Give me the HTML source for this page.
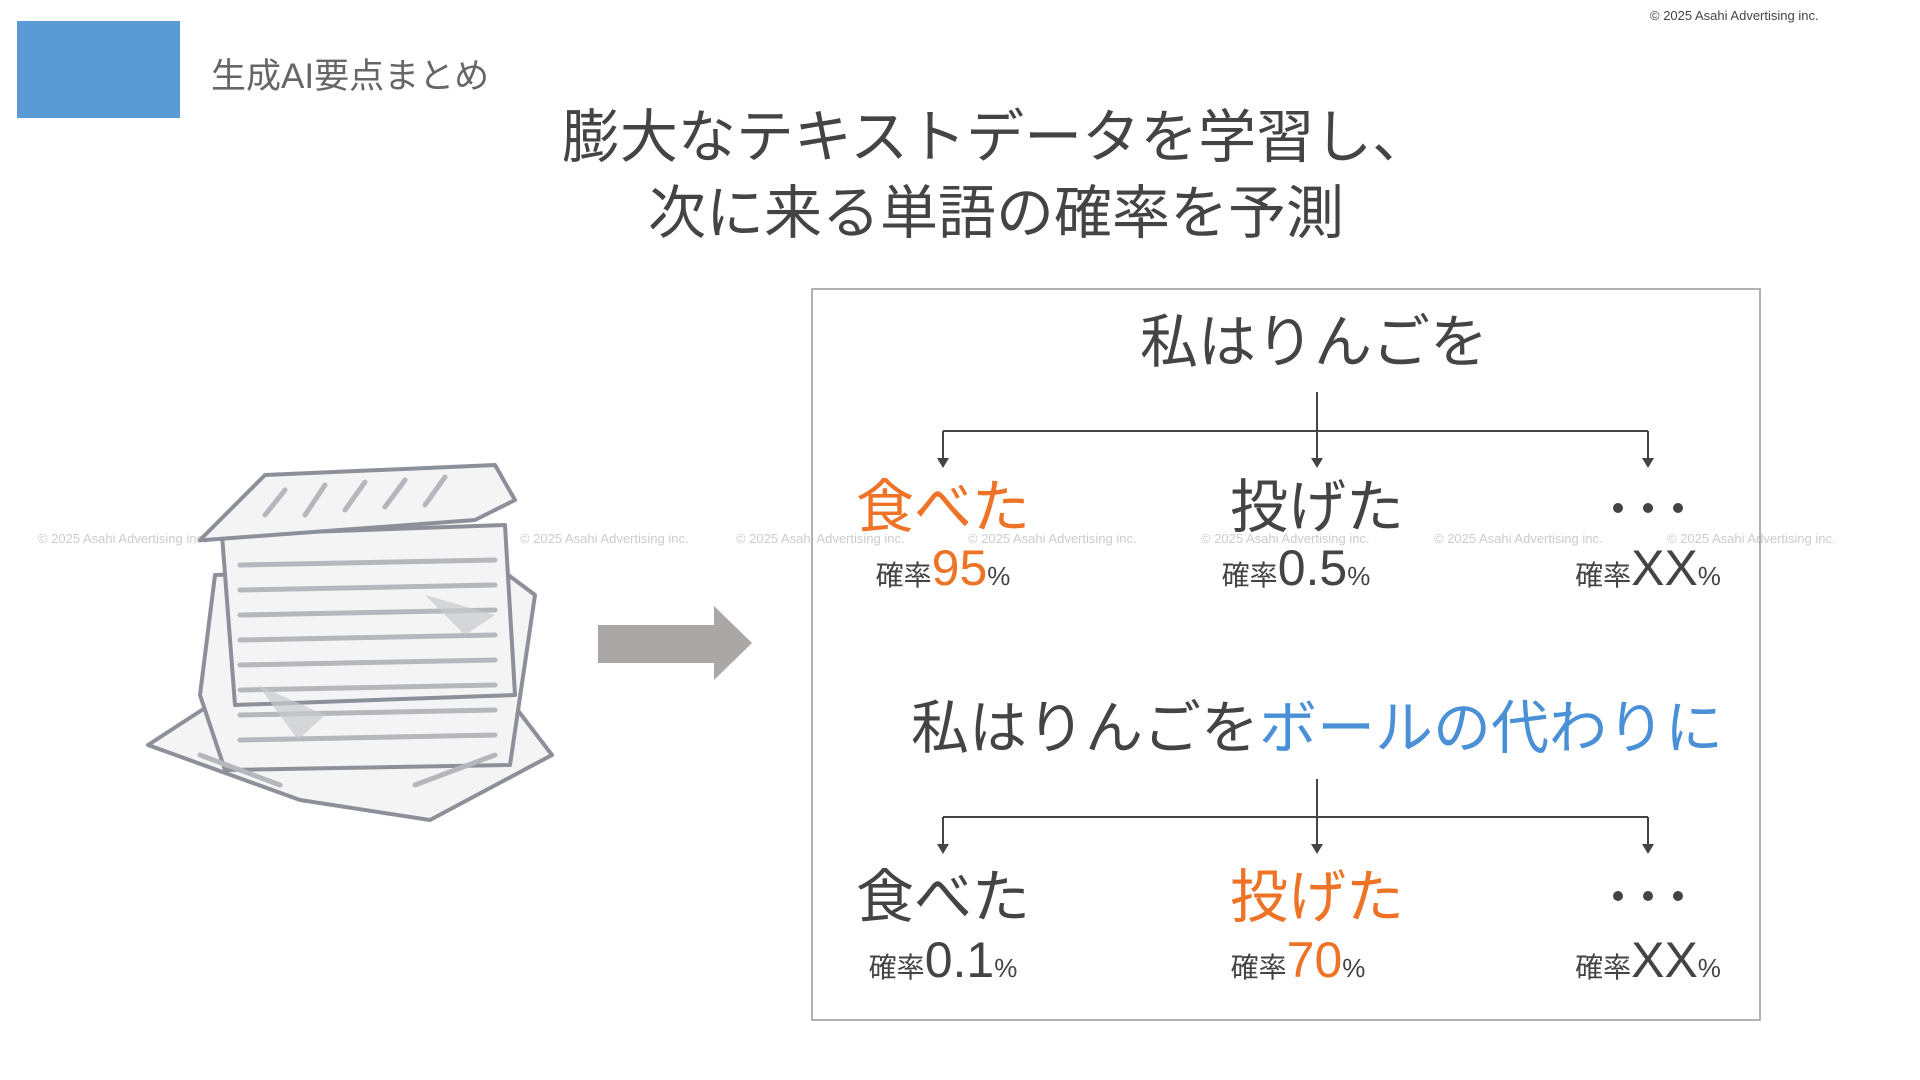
<!DOCTYPE html>
<html><head><meta charset="utf-8"><style>
body{margin:0;width:1920px;height:1080px;background:#fff;position:relative;overflow:hidden;font-family:"Liberation Sans","Noto Sans CJK JP",sans-serif;color:#444}
.a{position:absolute;white-space:nowrap}
.c{transform:translateX(-50%);text-align:center}
.w{font-size:58px;line-height:1}
.p{font-size:50px;line-height:1}
.p small{font-size:28px}
.p i{font-style:normal;font-size:26px}
.o{color:#ee7326}.b{color:#4a90d6}
.wm{font-size:13px;color:#ccc}
</style></head><body>
<div class="a" style="left:17px;top:21px;width:163px;height:97px;background:#5b9bd5"></div>
<div class="a" style="left:211px;top:48px;font-size:35px;color:#666">生成AI要点まとめ</div>
<div class="a" style="left:1650px;top:8px;font-size:13px;color:#444">© 2025 Asahi Advertising inc.</div>
<div class="a c" style="left:996px;top:100px;font-size:58px;line-height:76px">膨大なテキストデータを学習し、<br>次に来る単語の確率を予測</div>
<div class="a wm" style="left:38px;top:531px">© 2025 Asahi Advertising inc.</div>
<div class="a wm" style="left:520px;top:531px">© 2025 Asahi Advertising inc.</div>
<div class="a wm" style="left:736px;top:531px">© 2025 Asahi Advertising inc.</div>
<div class="a wm" style="left:968px;top:531px">© 2025 Asahi Advertising inc.</div>
<div class="a wm" style="left:1201px;top:531px">© 2025 Asahi Advertising inc.</div>
<div class="a wm" style="left:1434px;top:531px">© 2025 Asahi Advertising inc.</div>
<div class="a wm" style="left:1667px;top:531px">© 2025 Asahi Advertising inc.</div>
<svg class="a" style="left:0;top:0" width="1920" height="1080">
<g fill="#f4f4f5" stroke="#8d9099" stroke-width="4" stroke-linejoin="round">
<path d="M148 745 L225 695 L510 700 L552 755 L430 820 L300 800 Z"/>
<path d="M215 575 L495 565 L535 595 L510 765 L225 770 L200 695 Z"/>
<path d="M222 535 L505 525 L515 695 L235 705 Z"/>
<path d="M200 540 L265 475 L495 465 L515 500 L475 520 L205 540 Z"/>
</g>
<g stroke="#b5b7bd" stroke-width="5" stroke-linecap="round">
<line x1="240" y1="565" x2="495" y2="560"/><line x1="240" y1="590" x2="495" y2="585"/>
<line x1="240" y1="615" x2="495" y2="610"/><line x1="240" y1="640" x2="495" y2="635"/>
<line x1="240" y1="665" x2="495" y2="660"/><line x1="240" y1="690" x2="495" y2="685"/>
<line x1="240" y1="715" x2="495" y2="710"/><line x1="240" y1="740" x2="495" y2="735"/>
<line x1="265" y1="515" x2="285" y2="490"/><line x1="305" y1="515" x2="325" y2="485"/>
<line x1="345" y1="510" x2="365" y2="482"/><line x1="385" y1="507" x2="405" y2="480"/>
<line x1="425" y1="505" x2="445" y2="477"/><line x1="200" y1="755" x2="280" y2="785"/>
<line x1="415" y1="785" x2="495" y2="755"/>
</g>
<g fill="#c8c9cc" opacity=".7"><path d="M258 685 L325 715 L298 740 Z"/><path d="M425 595 L495 615 L465 635 Z"/></g>
<path d="M598 625 H714 V606 L752 643 L714 680 V663 H598 Z" fill="#aba7a6"/>
<rect x="812" y="289" width="948" height="731" fill="none" stroke="#999" stroke-width="1.5"/>
<g stroke="#444" stroke-width="2" fill="none">
<path d="M1317 392 V431 M943 431 H1648 M943 431 V462 M1317 431 V462 M1648 431 V462"/>
<path d="M1317 779 V817 M943 817 H1648 M943 817 V848 M1317 817 V848 M1648 817 V848"/>
</g>
<g fill="#444">
<path d="M937 458 L949 458 L943 468 Z"/><path d="M1311 458 L1323 458 L1317 468 Z"/><path d="M1642 458 L1654 458 L1648 468 Z"/>
<path d="M937 844 L949 844 L943 854 Z"/><path d="M1311 844 L1323 844 L1317 854 Z"/><path d="M1642 844 L1654 844 L1648 854 Z"/>
<circle cx="1618" cy="508" r="5"/><circle cx="1648" cy="508" r="5"/><circle cx="1678" cy="508" r="5"/>
<circle cx="1618" cy="896" r="5"/><circle cx="1648" cy="896" r="5"/><circle cx="1678" cy="896" r="5"/>
</g>
</svg>
<div class="a c w" style="left:1314px;top:314px">私はりんごを</div>
<div class="a c w o" style="left:943px;top:479px">食べた</div>
<div class="a c w" style="left:1317px;top:479px">投げた</div>
<div class="a c p" style="left:943px;top:543px"><small>確率</small><span class="o">95</span><i>%</i></div>
<div class="a c p" style="left:1296px;top:543px"><small>確率</small>0.5<i>%</i></div>
<div class="a c p" style="left:1648px;top:543px"><small>確率</small>XX<i>%</i></div>
<div class="a c w" style="left:1317px;top:700px">私はりんごを<span class="b">ボールの代わりに</span></div>
<div class="a c w" style="left:943px;top:869px">食べた</div>
<div class="a c w o" style="left:1317px;top:869px">投げた</div>
<div class="a c p" style="left:943px;top:935px"><small>確率</small>0.1<i>%</i></div>
<div class="a c p" style="left:1298px;top:935px"><small>確率</small><span class="o">70</span><i>%</i></div>
<div class="a c p" style="left:1648px;top:935px"><small>確率</small>XX<i>%</i></div>
</body></html>
